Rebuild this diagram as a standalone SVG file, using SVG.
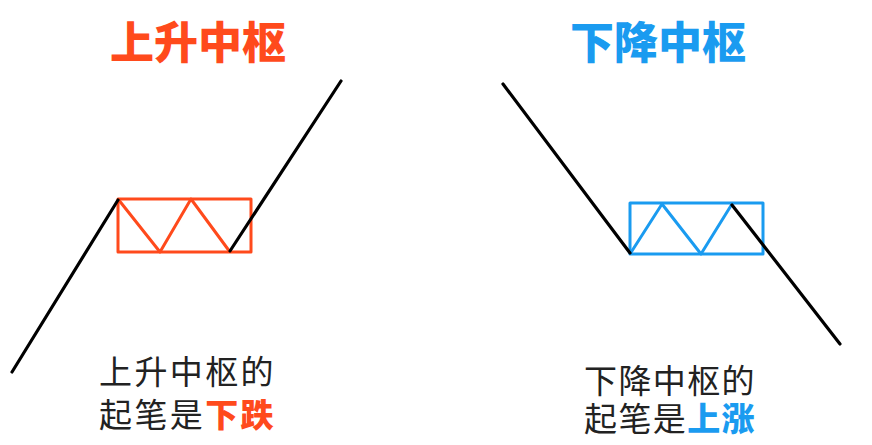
<svg xmlns="http://www.w3.org/2000/svg" width="872" height="445" viewBox="0 0 872 445">
<style>
.title{font-family:"Noto Sans CJK SC","Noto Sans",sans-serif;font-weight:900;font-size:44px;text-anchor:middle}
.cap{font-family:"Noto Sans CJK SC","Noto Sans",sans-serif;font-size:33px;fill:#222}
.red{fill:#FF4A1C}
.blue{fill:#1A9BF0}
.bold{font-weight:900}
.trend{stroke:#000;stroke-width:3.2;fill:none;stroke-linecap:round}
.boxR{stroke:#FF4A1C;stroke-width:3;fill:none;stroke-linejoin:round}
.boxB{stroke:#1A9BF0;stroke-width:3;fill:none;stroke-linejoin:round}
</style>
<rect width="872" height="445" fill="#fff"/>
<g id="up-hub">
<text class="title red" x="198" y="59" textLength="176">上升中枢</text>
<rect class="boxR" x="118" y="199" width="133" height="53"/>
<polyline class="boxR" points="118,199 160,252 191,199 230,252"/>
</g>
<g id="down-hub">
<text class="title blue" x="658" y="59" textLength="176">下降中枢</text>
<rect class="boxB" x="630" y="203" width="133" height="51"/>
<polyline class="boxB" points="630,254 662,204 701,254 732,204"/>
</g>
<g id="connectors">
<line class="trend" x1="12" y1="372" x2="118" y2="200"/>
<line class="trend" x1="230" y1="251" x2="341" y2="81"/>
<line class="trend" x1="503" y1="84" x2="630" y2="253"/>
<line class="trend" x1="732" y1="205" x2="840" y2="344"/>
</g>
<g id="up-caption">
<text class="cap" letter-spacing="2.4"><tspan x="99" y="384">上升中枢的</tspan><tspan x="99" y="427">起笔是</tspan><tspan class="red bold">下跌</tspan></text>
</g>
<g id="down-caption">
<text class="cap" letter-spacing="1.4"><tspan x="584" y="393">下降中枢的</tspan><tspan x="584" y="431">起笔是</tspan><tspan class="blue bold">上涨</tspan></text>
</g>
</svg>
